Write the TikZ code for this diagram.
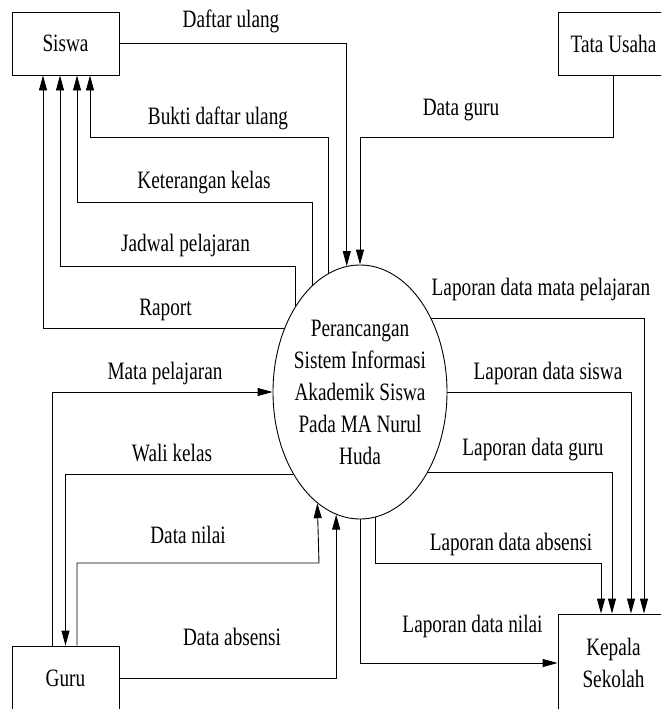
\documentclass[tikz,border=0pt]{standalone}
\usepackage{fontspec}
\setmainfont{Liberation Serif}[FakeStretch=0.77]
\usetikzlibrary{arrows.meta,shapes.geometric}
\tikzset{
  box/.style={draw, line width=0.9pt, minimum width=107pt, minimum height=63pt, inner sep=0pt, align=center},
  proc/.style={draw, ellipse, line width=0.9pt, minimum width=174pt, minimum height=254pt, inner ysep=0pt, inner xsep=-6pt, align=center},
  flow/.style={draw, line width=0.9pt, -{Triangle[length=15pt,width=8pt]}},
  lbl/.style={anchor=base, inner sep=0pt},
}
\begin{document}
\begin{tikzpicture}[x=1pt, y=-1pt, font=\fontsize{25pt}{32pt}\selectfont]
\useasboundingbox (0,0) rectangle (661,709);
\begin{scope}
\clip (0,0) rectangle (661,709);
% nodes
\node[box] (siswa) at (65.5,43.5) {Siswa};
\node[box, minimum width=111pt] (tata) at (613.5,43.5) {Tata Usaha};
\node[box, minimum height=64pt] (guru) at (65.5,678) {Guru};
\node[box, minimum width=111pt, minimum height=98pt] (kepala) at (613.5,663) {Kepala\\Sekolah};
\node[proc] (e) at (360,392) {Perancangan\\Sistem Informasi\\Akademik Siswa\\Pada MA Nurul\\Huda};

% Siswa <-> process
\draw[flow] (siswa.east) -| (e.96.4);
\draw[flow] (tata.south) -- ++(0,62) -| (e.90.5);
\draw[flow] (e.105.2) |- (90,137) -- ([xshift=24.5pt]siswa.south);
\draw[flow] (e.114.4) |- (77,202) -- ([xshift=11.5pt]siswa.south);
\draw[flow] (e.127.6) |- (60,266) -- ([xshift=-5.5pt]siswa.south);
\draw[flow] (e.140.8) -| ([xshift=-22.5pt]siswa.south);

% Guru <-> process
\draw[flow] ([xshift=-13.5pt]guru.north) |- (e.180);
\draw[flow] (e.231) -| (guru.north);
\draw[flow] ([xshift=11.5pt]guru.north) |- (319,563) -- (e.249.9);
\draw[flow] (guru.east) -| (e.259.9);

% process -> Kepala Sekolah
\draw[flow] (e.46.3) -| ([xshift=30.5pt]kepala.north);
\draw[flow] (e.0) -| ([xshift=17.5pt]kepala.north);
\draw[flow] (e.310.2) -| ([xshift=-1.5pt]kepala.north);
\draw[flow] (e.277.8) |- (601,563) -- ([xshift=-12.5pt]kepala.north);
\draw[flow] (e.270) |- (kepala.west);

% labels
\node[lbl] (l1) at (231,28) {Daftar ulang};
\node[lbl] (l2) at (461,115) {Data guru};
\node[lbl] (l3) at (218,124) {Bukti daftar ulang};
\node[lbl] (l4) at (204,188) {Keterangan kelas};
\node[lbl] (l5) at (185.5,251) {Jadwal pelajaran};
\node[lbl] (l6) at (165.5,315) {Raport};
\node[lbl] (l7) at (541,295) {Laporan data mata pelajaran};
\node[lbl] (l8) at (165,379) {Mata pelajaran};
\node[lbl] (l9) at (172,461) {Wali kelas};
\node[lbl] (l10) at (188,543) {Data nilai};
\node[lbl] (l11) at (232,645) {Data absensi};
\node[lbl] (l12) at (548,379) {Laporan data siswa};
\node[lbl] (l13) at (533,455) {Laporan data guru};
\node[lbl] (l14) at (511,550) {Laporan data absensi};
\node[lbl] (l15) at (472.5,632) {Laporan data nilai};
\end{scope}
\end{tikzpicture}
\end{document}
